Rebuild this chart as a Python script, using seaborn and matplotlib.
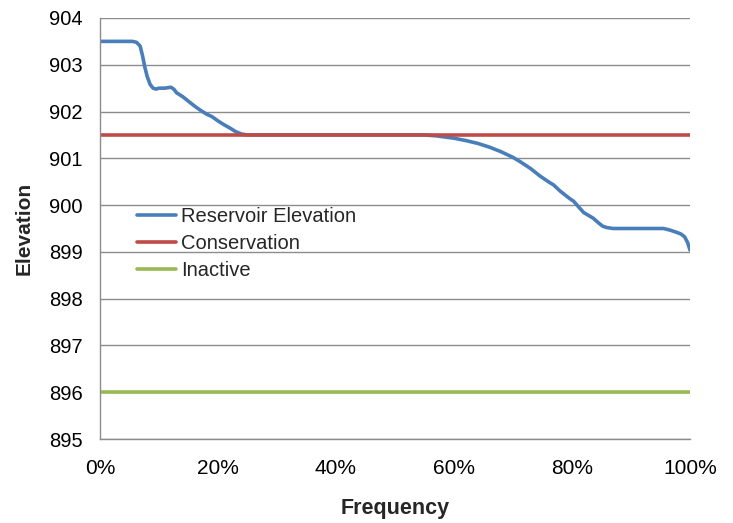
import matplotlib
matplotlib.use("Agg")
import matplotlib.pyplot as plt
import seaborn as sns
import pandas as pd
import numpy as np

# Data (frequency in fraction, elevation in ft)
freq = [0.0, 0.03, 0.055, 0.062, 0.068, 0.072, 0.076, 0.080, 0.085, 0.090, 0.095,
        0.10, 0.11, 0.12, 0.125, 0.13, 0.14, 0.15, 0.16, 0.17, 0.18, 0.19, 0.20,
        0.21, 0.22, 0.23, 0.24, 0.25, 0.30, 0.40, 0.50, 0.55, 0.57, 0.60, 0.62,
        0.64, 0.66, 0.68, 0.70, 0.712, 0.73, 0.746, 0.76, 0.769, 0.78, 0.786,
        0.795, 0.803, 0.812, 0.82, 0.828, 0.836, 0.845, 0.852, 0.859, 0.87,
        0.90, 0.93, 0.955, 0.965, 0.977, 0.985, 0.991, 0.996, 1.0]
reservoir = [903.5, 903.5, 903.5, 903.48, 903.4, 903.2, 902.95, 902.75, 902.58, 902.5, 902.48,
             902.5, 902.5, 902.52, 902.48, 902.4, 902.32, 902.22, 902.12, 902.03, 901.95, 901.89, 901.8,
             901.72, 901.65, 901.57, 901.52, 901.5, 901.5, 901.5, 901.5, 901.5, 901.48, 901.43, 901.38,
             901.32, 901.24, 901.14, 901.02, 900.93, 900.78, 900.62, 900.5, 900.43, 900.3, 900.24,
             900.15, 900.08, 899.95, 899.84, 899.78, 899.72, 899.62, 899.55, 899.52, 899.5,
             899.5, 899.5, 899.5, 899.47, 899.42, 899.38, 899.32, 899.2, 899.04]
conservation_level = 901.5
inactive_level = 896.0

x_ticks = [0.0, 0.2, 0.4, 0.6, 0.8, 1.0]
x_tick_labels = ["0%", "20%", "40%", "60%", "80%", "100%"]
y_ticks = [895, 896, 897, 898, 899, 900, 901, 902, 903, 904]

series_names = ["Reservoir Elevation", "Conservation", "Inactive"]
colors = ["#4A7EBB", "#BE4B48", "#98B954"]

df = pd.concat([
    pd.DataFrame({"Frequency": freq, "Elevation": reservoir, "Series": series_names[0]}),
    pd.DataFrame({"Frequency": [0.0, 1.0], "Elevation": [conservation_level] * 2, "Series": series_names[1]}),
    pd.DataFrame({"Frequency": [0.0, 1.0], "Elevation": [inactive_level] * 2, "Series": series_names[2]}),
])

sns.set_style("white")
plt.rcParams["font.family"] = ["Liberation Sans", "DejaVu Sans"]

fig = plt.figure(figsize=(7.33, 5.23), dpi=100)
ax = fig.add_axes([0.1364, 0.1606, 0.8049, 0.805])

sns.lineplot(data=df, x="Frequency", y="Elevation", hue="Series",
             palette=dict(zip(series_names, colors)), linewidth=2.6,
             sort=False, estimator=None, ax=ax)

ax.set_xlim(0, 1)
ax.set_ylim(895, 904)
ax.set_xticks(x_ticks)
ax.set_xticklabels(x_tick_labels)
ax.set_yticks(y_ticks)
ax.grid(axis="y", color="#8C8C8C", linewidth=1.0)
ax.set_axisbelow(True)
for s in ["top", "right"]:
    ax.spines[s].set_visible(False)
for s in ["left", "bottom"]:
    ax.spines[s].set_color("#8C8C8C")
    ax.spines[s].set_linewidth(1.0)
ax.tick_params(axis="both", which="both", direction="out", length=4.5, width=1.0,
               color="#8C8C8C", labelcolor="black")
ax.tick_params(axis="y", labelsize=14.5, pad=8)
ax.tick_params(axis="x", labelsize=15, pad=10)

ax.set_xlabel("Frequency", fontsize=15.5, fontweight="bold", labelpad=14)
ax.set_ylabel("Elevation", fontsize=15, fontweight="bold", labelpad=11)

leg = ax.legend(loc="upper left", bbox_to_anchor=(0.062, 0.552), frameon=False,
                fontsize=14.5, handlelength=1.95, handletextpad=0.25, labelspacing=0.4,
                borderaxespad=0, borderpad=0)
for line in leg.get_lines():
    line.set_linewidth(2.6)

fig.savefig("out.png", dpi=100)
